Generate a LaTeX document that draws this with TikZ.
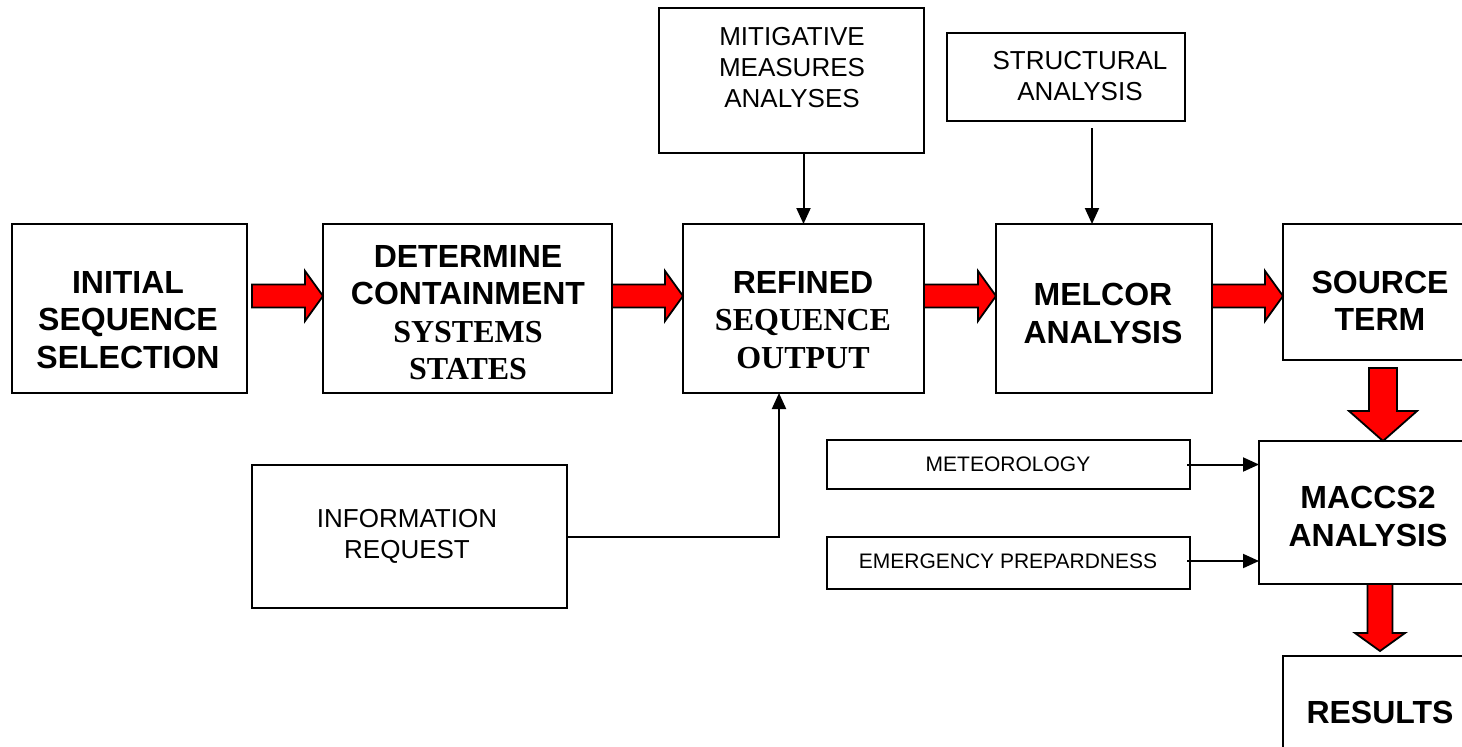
\documentclass[tikz,border=0pt]{standalone}
\usepackage{fontspec}
\setmainfont{Liberation Sans}
\newfontfamily\timesb{Liberation Serif}
\usetikzlibrary{calc,arrows.meta}
\newcommand{\hred}[2]{%
  \path[redarr] let \p1=#1, \p2=#2 in
    (\x1,\y1+11.5pt) -- (\x2-18pt,\y1+11.5pt) -- (\x2-18pt,\y1+25pt) -- (\x2,\y1)
    -- (\x2-18pt,\y1-25pt) -- (\x2-18pt,\y1-11.5pt) -- (\x1,\y1-11.5pt) -- cycle;}
% #1 start, #2 tip, #3 shaft half width, #4 head half width, #5 head length
\newcommand{\vred}[5]{%
  \path[redarr] let \p1=#1, \p2=#2 in
    (\x1-#3,\y1) -- (\x1-#3,\y2+#5) -- (\x1-#4,\y2+#5) -- (\x1,\y2)
    -- (\x1+#4,\y2+#5) -- (\x1+#3,\y2+#5) -- (\x1+#3,\y1) -- cycle;}
\begin{document}
\begin{tikzpicture}[x=1pt,y=-1pt,
  box/.style={draw, line width=2.2pt, anchor=north west, inner sep=0pt, outer sep=0pt},
  big/.style={font=\fontsize{32}{37.5}\selectfont\bfseries, align=center, inner sep=0pt},
  mid/.style={font=\fontsize{26}{31}\selectfont, align=center, inner sep=0pt},
  small/.style={font=\fontsize{21}{25}\selectfont, inner sep=0pt},
  thinarr/.style={line width=2pt, -{Triangle[width=14pt,length=16pt]}},
  redarr/.style={fill=red, draw=black, line width=1.8pt, line join=miter}]
\useasboundingbox (0,0) rectangle (1462,747);
\fill[white] (0,0) rectangle (1462,747);
\clip (0,0) rectangle (1462,747);

% boxes
\node[box, minimum width=235pt, minimum height=169pt] (initial) at (12,224) {};
\node[box, minimum width=289pt, minimum height=169pt] (determine) at (323,224) {};
\node[box, minimum width=241pt, minimum height=169pt] (refined) at (683,224) {};
\node[box, minimum width=216pt, minimum height=169pt] (melcor) at (996,224) {};
\node[box, minimum width=194pt, minimum height=136pt] (source) at (1283,224) {};
\node[box, minimum width=265pt, minimum height=145pt] (mitig) at (659,8) {};
\node[box, minimum width=238pt, minimum height=88pt] (struct) at (947,33) {};
\node[box, minimum width=315pt, minimum height=143pt] (info) at (252,465) {};
\node[box, minimum width=363pt, minimum height=49pt] (meteo) at (827,440) {};
\node[box, minimum width=363pt, minimum height=52pt] (emerg) at (827,537) {};
\node[box, minimum width=218pt, minimum height=143pt] (maccs) at (1259,441) {};
\node[box, minimum width=194pt, minimum height=120pt] (results) at (1283,656) {};

% texts
\node[big] (initialT) at (128,320) {INITIAL\\SEQUENCE\\SELECTION};
\node[big] (determineT) at (468,312.5) {DETERMINE\\CONTAINMENT\\{\timesb SYSTEMS}\\{\timesb STATES}};
\node[big] (refinedT) at (803,320) {REFINED\\{\timesb SEQUENCE}\\{\timesb OUTPUT}};
\node[big] (melcorT) at (1103,313.5) {MELCOR\\ANALYSIS};
\node[big] (sourceT) at (1380,301) {SOURCE\\TERM};
\node[big] (maccsT) at (1368,516.5) {MACCS2\\ANALYSIS};
\node[big] (resultsT) at (1380,712) {RESULTS};
\node[mid] (mitigT) at (792,67.5) {MITIGATIVE\\MEASURES\\ANALYSES};
\node[mid] (structT) at (1080,76.5) {STRUCTURAL\\ANALYSIS};
\node[mid] (infoT) at (407,536) {INFORMATION\\REQUEST};
\node[small] (meteoT) at (1008,464) {METEOROLOGY};
\node[small] (emergT) at (1008,561) {EMERGENCY PREPARDNESS};

% red arrows
\coordinate (ay) at (0,296);
\hred{($(initial.east|-ay)+(5,0)$)}{(determine.west|-ay)}
\hred{(determine.east|-ay)}{(refined.west|-ay)}
\hred{(refined.east|-ay)}{(melcor.west|-ay)}
\hred{(melcor.east|-ay)}{(source.west|-ay)}
\vred{($(source.south)+(3,8)$)}{(maccs.north)}{14pt}{34pt}{30pt}
\vred{(results.north|-maccs.south)}{($(results.north)+(0,-5)$)}{12.5pt}{25pt}{18pt}

% thin arrows
\draw[thinarr] (mitig.south -| refined.north) -- (refined.north);
\coordinate (sa) at (1092,128);
\draw[thinarr] (sa) -- (sa |- melcor.north);
\draw[thinarr] (info.east) -| ($(refined.south)+(-24.5,0)$);
\draw[thinarr] ($(meteo.east)+(-3,0)$) -- (meteo.east -| maccs.west);
\draw[thinarr] ($(emerg.east)+(-3,-2)$) -- ($(emerg.east -| maccs.west)+(0,-2)$);
\end{tikzpicture}
\end{document}
